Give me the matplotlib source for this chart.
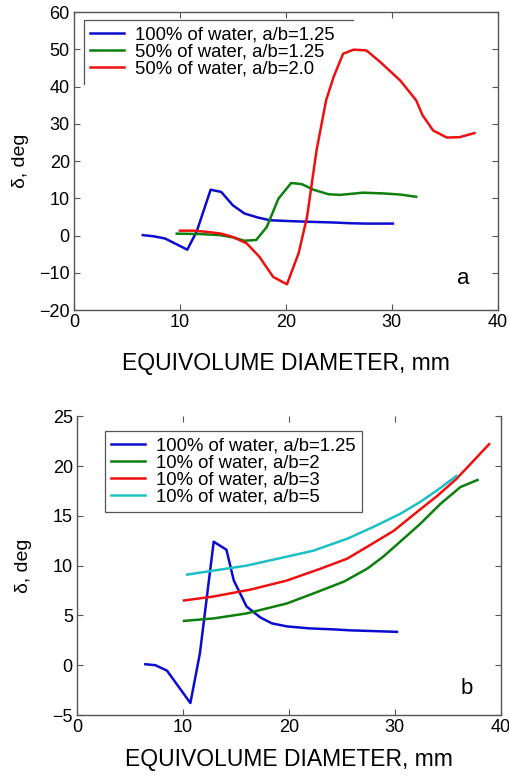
import matplotlib

matplotlib.use("Agg")
import matplotlib.pyplot as plt
from matplotlib.lines import Line2D

plt.rcParams["font.family"] = ["Liberation Sans", "DejaVu Sans"]

# panel a
blue_x = [6.5, 7.5, 8.6, 10.7, 11.6, 12.9, 13.9, 15.0, 16.1, 17.4, 18.5, 20.1, 22.0, 24.5, 26.0, 27.6, 30.1]
blue_y = [0.1, -0.2, -0.8, -3.8, 1.2, 12.3, 11.7, 8.1, 5.9, 4.8, 4.1, 3.9, 3.7, 3.5, 3.3, 3.2, 3.2]
green_a_x = [9.7, 11.9, 13.8, 15.0, 16.1, 17.2, 18.2, 19.3, 20.5, 21.5, 22.6, 24.0, 25.1, 27.3, 29.2, 30.8, 32.3]
green_a_y = [0.5, 0.4, 0.1, -0.5, -1.4, -1.2, 2.3, 9.9, 14.1, 13.8, 12.3, 11.1, 10.9, 11.5, 11.3, 11.0, 10.4]
red_a_x = [10.0, 11.3, 12.5, 13.9, 15.0, 16.3, 17.5, 18.8, 20.1, 21.2, 22.0, 22.9, 23.8, 24.5, 25.4,
           26.4, 27.6, 28.9, 30.8, 32.3, 32.9, 33.9, 35.2, 36.4, 37.8]
red_a_y = [1.3, 1.3, 1.0, 0.5, -0.4, -2.1, -5.7, -11.1, -13.1, -4.8, 5.0, 22.9, 36.3, 42.5, 48.8,
           49.9, 49.7, 46.6, 41.6, 36.3, 32.3, 28.2, 26.3, 26.4, 27.5]
labels_a = ["100% of water, a/b=1.25", "50% of water, a/b=1.25", "50% of water, a/b=2.0"]

# panel b
blue_b_x = [6.45, 7.4, 8.5, 10.7, 11.6, 12.9, 14.1, 14.8, 16.0, 17.3, 18.4, 19.8, 21.9, 24.2, 25.8, 30.2]
blue_b_y = [0.1, 0.0, -0.55, -3.8, 1.2, 12.4, 11.6, 8.5, 5.9, 4.8, 4.2, 3.9, 3.7, 3.6, 3.5, 3.35]
green_b_x = [10.1, 12.9, 16.0, 19.8, 22.3, 25.2, 27.4, 28.9, 30.5, 32.4, 34.3, 36.2, 37.8]
green_b_y = [4.45, 4.7, 5.2, 6.2, 7.2, 8.4, 9.7, 10.9, 12.4, 14.2, 16.2, 17.9, 18.6]
red_b_x = [10.1, 12.9, 16.4, 19.8, 23.0, 25.5, 27.4, 29.9, 32.1, 34.0, 35.8, 37.4, 38.9]
red_b_y = [6.5, 6.9, 7.6, 8.5, 9.7, 10.7, 11.9, 13.5, 15.4, 17.0, 18.7, 20.5, 22.2]
cyan_b_x = [10.4, 12.9, 16.0, 19.8, 22.3, 25.5, 28.0, 30.5, 32.4, 34.3, 35.8]
cyan_b_y = [9.1, 9.5, 10.0, 10.9, 11.5, 12.7, 13.9, 15.2, 16.4, 17.8, 19.0]
labels_b = ["100% of water, a/b=1.25", "10% of water, a/b=2", "10% of water, a/b=3", "10% of water, a/b=5"]

BLUE = "#0c0cd0"
GREEN = "#0c7f0c"
RED = "#ee1010"
CYAN = "#1cc0c4"
SPINE = "#555555"
LW = 1.8


def style_axis(axis, xlabel_y):
    axis.tick_params(direction="in", length=4, labelsize=13, color=SPINE,
                     top=True, right=True, pad=3)
    for spine in axis.spines.values():
        spine.set_color(SPINE)
        spine.set_linewidth(1.0)
    axis.set_ylabel("\u03b4, deg", fontsize=14, va="center")
    axis.yaxis.set_label_coords(-0.126, 0.5)
    axis.set_xlabel("EQUIVOLUME DIAMETER, mm", fontsize=16.5, va="center")
    axis.xaxis.set_label_coords(0.5, xlabel_y)


def add_legend(axis, anchor):
    legend = axis.legend(loc="upper left", bbox_to_anchor=anchor, fontsize=13.3,
                         handlelength=1.8, handletextpad=0.6, borderpad=0.35,
                         borderaxespad=0, labelspacing=0.0, fancybox=False,
                         framealpha=1)
    legend.get_frame().set_edgecolor(SPINE)
    legend.get_frame().set_linewidth(0.9)
    return legend


figure = plt.figure(figsize=(5.10, 7.76), dpi=100)

axis_a = figure.add_axes([0.145, 0.6005, 0.831, 0.384])
axis_a.plot(blue_x, blue_y, color=BLUE, lw=LW, label=labels_a[0])
axis_a.plot(green_a_x, green_a_y, color=GREEN, lw=LW, label=labels_a[1])
axis_a.plot(red_a_x, red_a_y, color=RED, lw=LW, label=labels_a[2])
axis_a.set_xlim(0, 40)
axis_a.set_ylim(-20, 60)
axis_a.set_xticks(range(0, 41, 10))
axis_a.set_yticks(range(-20, 61, 10))
style_axis(axis_a, -0.178)
axis_a.text(36.7, -11.5, "a", fontsize=16, ha="center", va="center")
legend_a = add_legend(axis_a, (0.0236, 0.973))
# in the scan only the top and left edges of this legend box survive,
# and the red curve shows through it
legend_a.get_frame().set_edgecolor("none")
legend_a.get_frame().set_facecolor("none")
legend_a.set_zorder(1)

axis_b = figure.add_axes([0.151, 0.0786, 0.831, 0.385])
axis_b.plot(blue_b_x, blue_b_y, color=BLUE, lw=LW, label=labels_b[0])
axis_b.plot(green_b_x, green_b_y, color=GREEN, lw=LW, label=labels_b[1])
axis_b.plot(red_b_x, red_b_y, color=RED, lw=LW, label=labels_b[2])
axis_b.plot(cyan_b_x, cyan_b_y, color=CYAN, lw=LW, label=labels_b[3])
axis_b.set_xlim(0, 40)
axis_b.set_ylim(-5, 25)
axis_b.set_xticks(range(0, 41, 10))
axis_b.set_yticks(range(-5, 26, 5))
style_axis(axis_b, -0.1505)
axis_b.spines["top"].set_visible(False)
axis_b.text(36.8, -2.3, "b", fontsize=16, ha="center", va="center")
add_legend(axis_b, (0.066, 0.95))

figure.canvas.draw()
box = legend_a.get_frame().get_window_extent().transformed(figure.transFigure.inverted())
right_edge = box.x1 + 12 / 510
figure.add_artist(Line2D([box.x0, box.x0, right_edge], [box.y0, box.y1, box.y1],
                         transform=figure.transFigure, color=SPINE, lw=0.9))

figure.savefig("out.png", dpi=100)
plt.close(figure)
